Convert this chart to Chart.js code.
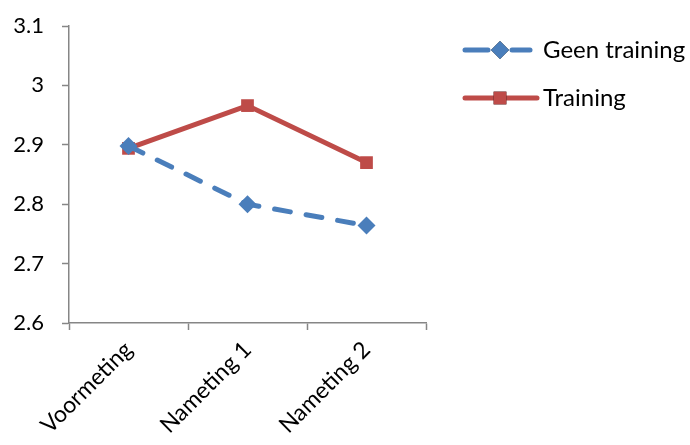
<!DOCTYPE html>
<html>
<head>
<meta charset="utf-8">
<script src="https://cdn.jsdelivr.net/npm/chart.js@4/dist/chart.umd.min.js"></script>
<style>
html,body{margin:0;padding:0;background:#fff;}
#wrap{width:690px;height:445px;position:relative;}
</style>
</head>
<body>
<div id="wrap"><canvas id="c" width="690" height="445"></canvas></div>
<script>
const categories = ['Voormeting', 'Nameting 1', 'Nameting 2'];
const geenTraining = [2.898, 2.800, 2.764];
const training = [2.894, 2.966, 2.870];
const seriesNames = ['Geen training', 'Training'];
const yMin = 2.6, yMax = 3.1, yStep = 0.1;

const FONT = 'Lato, "Open Sans", sans-serif';
const AXIS = '#868686';

const legendPlugin = {
  id: 'lineLegend',
  afterDraw(chart) {
    const ctx = chart.ctx;
    const items = [
      {y: 50, x0: 465, x1: 530, mx: 500},
      {y: 98, x0: 465, x1: 537, mx: 500}
    ];
    chart.data.datasets.forEach((ds, i) => {
      const it = items[i];
      ctx.save();
      ctx.strokeStyle = ds.borderColor;
      ctx.lineWidth = ds.borderWidth;
      ctx.lineCap = 'round';
      if (ds.borderDash && ds.borderDash.length) {
        ctx.beginPath(); ctx.moveTo(it.x0, it.y); ctx.lineTo(it.mx - 12, it.y); ctx.stroke();
        ctx.beginPath(); ctx.moveTo(it.mx + 12, it.y); ctx.lineTo(it.x1, it.y); ctx.stroke();
      } else {
        ctx.beginPath(); ctx.moveTo(it.x0, it.y); ctx.lineTo(it.x1, it.y); ctx.stroke();
      }
      Chart.helpers.drawPoint(ctx, {pointStyle: ds.pointStyle, radius: ds.pointRadius, borderWidth: 0}, it.mx, it.y);
      ctx.fillStyle = ds.pointBackgroundColor;
      ctx.fill();
      ctx.fillStyle = '#000';
      ctx.font = '24px ' + FONT;
      ctx.textBaseline = 'middle';
      ctx.textAlign = 'left';
      ctx.fillText(ds.label, 543, it.y);
      ctx.restore();
    });
  }
};

new Chart(document.getElementById('c'), {
  type: 'line',
  data: {
    labels: categories,
    datasets: [
      {
        label: seriesNames[0],
        data: geenTraining,
        borderColor: '#4a7ebb',
        backgroundColor: '#4a7ebb',
        pointBackgroundColor: '#4a7ebb',
        pointBorderColor: '#4a7ebb',
        borderWidth: 5,
        borderDash: [16, 16],
        borderCapStyle: 'round',
        pointStyle: 'rectRot',
        pointRadius: 9,
        pointBorderWidth: 0,
        tension: 0
      },
      {
        label: seriesNames[1],
        data: training,
        borderColor: '#be4b48',
        backgroundColor: '#be4b48',
        pointBackgroundColor: '#be4b48',
        pointBorderColor: '#be4b48',
        borderWidth: 5,
        pointStyle: 'rect',
        pointRadius: 9,
        pointBorderWidth: 0,
        tension: 0
      }
    ]
  },
  options: {
    responsive: false,
    animation: false,
    devicePixelRatio: 1,
    layout: {padding: {top: 26, right: 264, left: 0, bottom: 0}},
    plugins: {legend: {display: false}, tooltip: {enabled: false}},
    scales: {
      x: {
        offset: true,
        grid: {display: true, offset: true, drawOnChartArea: false, drawTicks: true, tickLength: 7, tickColor: AXIS, tickWidth: 1.5},
        border: {display: true, color: AXIS, width: 1.5},
        ticks: {color: '#000', font: {family: FONT, size: 23}, minRotation: 45, maxRotation: 45, padding: 6, autoSkip: false},
        afterFit(s) { s.height = 122; s.paddingLeft = 0; s.paddingRight = 0; }
      },
      y: {
        min: yMin, max: yMax,
        grid: {display: true, drawOnChartArea: false, drawTicks: true, tickLength: 7, tickColor: AXIS, tickWidth: 1.5},
        border: {display: true, color: AXIS, width: 1.5},
        ticks: {stepSize: yStep, color: '#000', font: {family: FONT, size: 22}, padding: 18,
          callback: v => String(+Number(v).toFixed(1))},
        afterFit(s) { s.width = 69; s.paddingTop = 0; s.paddingBottom = 0; }
      }
    }
  },
  plugins: [legendPlugin]
});
</script>
</body>
</html>
